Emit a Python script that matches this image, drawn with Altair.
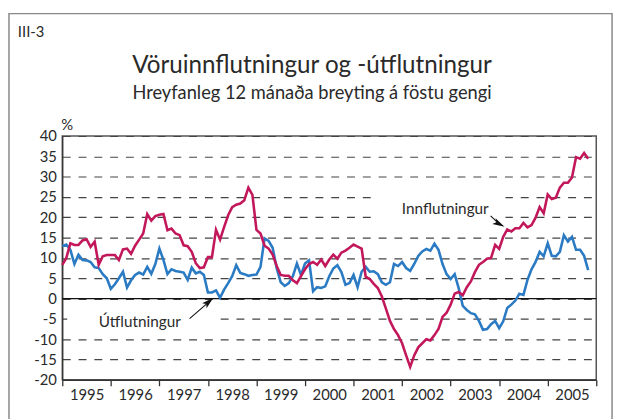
import altair as alt
import pandas as pd

START_YEAR = 1995
LABEL_IN = "Innflutningur"
LABEL_UT = "Útflutningur"
TITLE = "Vöruinnflutningur og -útflutningur"
SUBTITLE = "Hreyfanleg 12 mánaða breyting á föstu gengi"
CHART_NO = "III-3"
UNIT = "%"

innflutningur = [
    8.3, 10.0, 13.6, 13.2, 13.2, 14.3, 14.6, 12.7, 14.0, 8.3, 10.4, 10.7,
    10.7, 10.7, 9.5, 12.1, 12.3, 11.0, 13.0, 14.5, 16.0, 20.8, 19.2, 20.3,
    20.6, 20.8, 16.8, 17.2, 16.0, 15.6, 13.1, 12.9, 11.5, 8.7, 7.5, 7.7,
    10.2, 10.2, 16.9, 14.5, 17.6, 20.5, 22.5, 23.1, 23.4, 24.2, 27.3, 25.5,
    16.9, 16.0, 13.0, 12.3, 10.8, 8.0, 5.8, 5.6, 5.6, 4.5, 3.8, 5.5,
    7.2, 8.5, 9.0, 8.3, 9.6, 8.0, 9.6, 10.8, 9.8, 11.3, 11.8, 12.5,
    13.3, 12.8, 12.3, 5.4, 4.8, 3.6, 2.6, 0.5, -2.5, -5.5, -7.5, -9.0,
    -11.0, -14.0, -16.8, -14.0, -12.0, -11.0, -10.0, -10.3, -9.0, -7.5, -4.5, -3.5,
    -1.5, 1.2, 1.6, 0.8, 2.8, 4.2, 6.5, 8.3, 9.0, 9.8, 10.0, 13.2,
    12.2, 15.2, 17.0, 16.5, 17.3, 17.3, 18.6, 17.5, 18.1, 19.9, 22.5, 21.0,
    25.6, 24.5, 24.8, 27.3, 28.5, 28.5, 29.8, 34.8, 34.4, 35.8, 34.4,
]

utflutningur = [
    12.9, 13.3, 12.0, 8.5, 10.8, 9.5, 9.4, 9.0, 7.7, 7.5, 6.0, 5.0,
    2.4, 3.5, 5.0, 6.6, 2.7, 4.5, 5.8, 6.4, 5.9, 7.8, 6.1, 8.5,
    12.3, 9.5, 6.0, 7.2, 6.8, 6.6, 6.4, 4.6, 7.6, 6.2, 6.6, 5.8,
    1.5, 1.5, 2.0, 0.2, 2.2, 3.8, 5.5, 8.2, 6.3, 6.0, 5.6, 5.8,
    5.9, 7.8, 14.8, 14.2, 12.5, 7.5, 4.0, 3.1, 3.8, 5.5, 8.6, 5.8,
    8.6, 9.4, 1.8, 2.8, 2.6, 3.0, 5.5, 7.4, 8.2, 6.5, 3.4, 3.8,
    5.8, 2.8, 6.6, 7.8, 6.6, 6.7, 6.0, 4.0, 3.4, 4.0, 8.5, 8.0,
    9.0, 7.5, 6.8, 8.5, 10.5, 11.6, 12.2, 11.8, 13.5, 12.0, 8.5, 6.0,
    4.8, 6.0, 2.5, -1.8, -2.8, -3.6, -3.9, -5.5, -7.7, -7.5, -6.3, -5.5,
    -7.3, -5.6, -2.3, -1.5, -0.5, 1.2, 0.9, 4.6, 7.2, 9.0, 11.5, 10.4,
    13.6, 10.5, 10.4, 11.5, 15.6, 14.0, 15.2, 12.0, 12.0, 10.5, 7.0,
]

year_ticks = list(range(1995, 2007))
y_ticks = list(range(-20, 41, 5))

RED = "#C2185B"
BLUE = "#2B7BC4"
TEXT = "#2a2a2a"
FONT = "Lato"

n = len(innflutningur)
t = [START_YEAR + i / 12 for i in range(n)]
df_in = pd.DataFrame({"t": t, "v": innflutningur})
df_ut = pd.DataFrame({"t": t, "v": utflutningur})

xscale = alt.Scale(domain=[1995, 2006], nice=False, zero=False)
yscale = alt.Scale(domain=[-20, 40], nice=False)

xaxis = alt.Axis(values=year_ticks, title=None, grid=False, labelOffset=24.6,
                 labelExpr="datum.value >= 2006 ? '' : '' + datum.value",
                 tickSize=6, labelPadding=2, labelFontSize=15, labelFont=FONT,
                 labelColor=TEXT, domainColor="#333", tickColor="#333",
                 domainWidth=1.3, tickWidth=1.3, labelFlush=False,
                 labelOverlap=False)
yaxis = alt.Axis(values=y_ticks, title=None, grid=True, gridDash=[8, 8],
                 gridColor="#444", gridWidth=1.2, ticks=False,
                 labelExpr="'' + datum.value", labelPadding=6,
                 labelFontSize=15, labelFont=FONT, labelColor=TEXT,
                 domainColor="#333", domainWidth=1.3, labelOverlap=False,
                 tickCount=13)

X = alt.X("t:Q", scale=xscale, axis=xaxis)
Y = alt.Y("v:Q", scale=yscale, axis=yaxis)

line_ut = alt.Chart(df_ut).mark_line(color=BLUE, strokeWidth=2.6).encode(x=X, y=Y)
line_in = alt.Chart(df_in).mark_line(color=RED, strokeWidth=2.6).encode(x=X, y=Y)

zero = alt.Chart(pd.DataFrame({"v": [0]})).mark_rule(color="#111", strokeWidth=1.3).encode(y=Y)

one = pd.DataFrame({"k": [0]})


def txt(s, x, y, size, align="center", baseline="middle"):
    return alt.Chart(one).mark_text(
        text=s, font=FONT, fontSize=size, color=TEXT, align=align, baseline=baseline
    ).encode(x=alt.value(x), y=alt.value(y))


def whitebox(x1, x2, y1, y2):
    return alt.Chart(one).mark_rect(fill="white", stroke=None).encode(
        x=alt.value(x1), x2=alt.value(x2), y=alt.value(y1), y2=alt.value(y2)
    )


frame = alt.Chart(one).mark_rect(fill="transparent", stroke="#888", strokeWidth=1.5).encode(
    x=alt.value(-54), x2=alt.value(557), y=alt.value(-124), y2=alt.value(320)
)

box_in = whitebox(315, 449, 58, 85)
box_ut = whitebox(5, 155, 176, 197)

title = txt(TITLE, 253, -71, 24.5)
subtitle = txt(SUBTITLE, 253, -44, 18.5)
chartno = txt(CHART_NO, -45, -105, 15, align="left")
unit = txt(UNIT, 5, -11, 15)
lab_in = txt(LABEL_IN, 432, 74, 15.5, align="right")
lab_ut = txt(LABEL_UT, 120, 188, 15.5, align="right")

arrow_in = alt.Chart(one).mark_rule(color="#111", strokeWidth=1.1).encode(
    x=alt.value(434), y=alt.value(81), x2=alt.value(442.5), y2=alt.value(89)
)
head_in = alt.Chart(one).mark_point(
    shape="M0,-1L0.55,1L0,0.55L-0.55,1Z", filled=True, color="#111", opacity=1,
    size=150, angle=118.6
).encode(x=alt.value(442.7), y=alt.value(89.1))
arrow_ut = alt.Chart(one).mark_rule(color="#111", strokeWidth=1.1).encode(
    x=alt.value(129), y=alt.value(185), x2=alt.value(148.3), y2=alt.value(168.2)
)
head_ut = alt.Chart(one).mark_point(
    shape="M0,-1L0.55,1L0,0.55L-0.55,1Z", filled=True, color="#111", opacity=1,
    size=150, angle=48.8
).encode(x=alt.value(148.5), y=alt.value(168))

chart = alt.layer(
    frame, box_in, box_ut, zero, line_ut, line_in, title, subtitle, chartno, unit,
    lab_in, lab_ut, arrow_in, head_in, arrow_ut, head_ut
).properties(
    width=541, height=247,
    autosize=alt.AutoSizeParams(type="none"),
    padding={"left": 55, "top": 127, "right": 20, "bottom": 37},
    background="white",
).configure_view(stroke="#555", strokeWidth=1.5)

chart.save("out.html", embed_options={"renderer": "svg", "actions": False})
